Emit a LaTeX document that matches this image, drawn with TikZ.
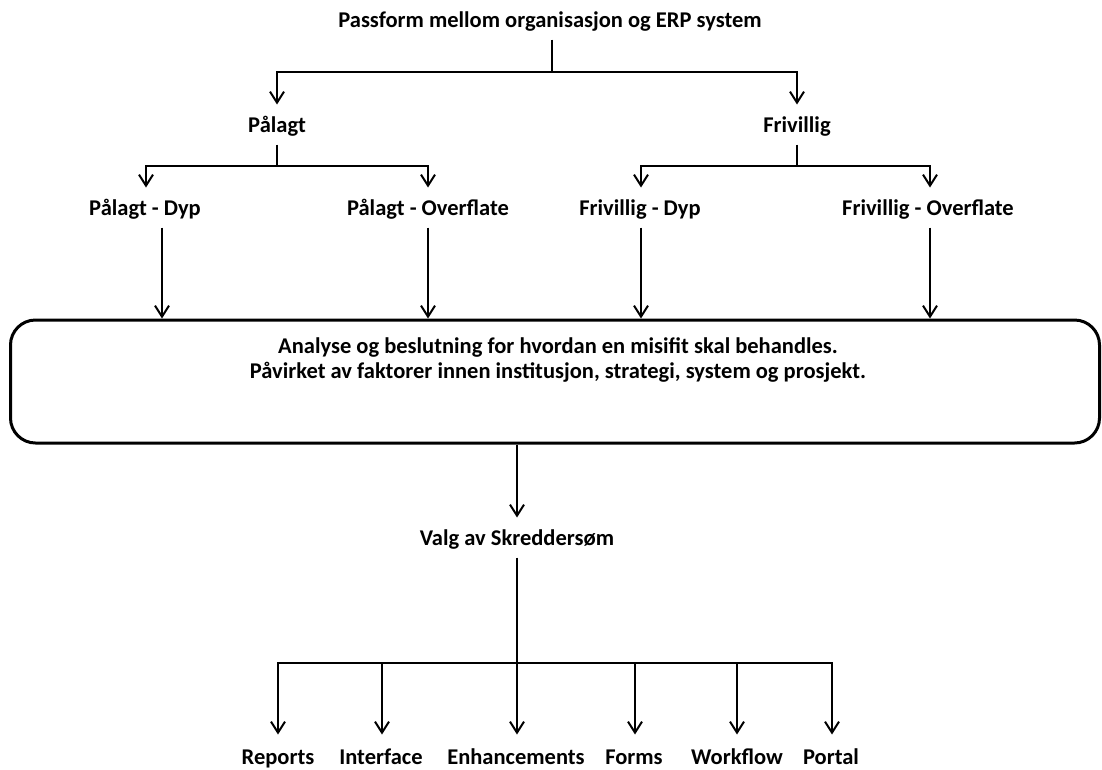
\documentclass[tikz,border=0pt]{standalone}
\usepackage{fontspec}
\setmainfont{Carlito}[BoldFont={Carlito Bold}]
\usetikzlibrary{arrows.meta}
\begin{document}
\begin{tikzpicture}[x=1pt,y=-1pt,
  lbl/.style={font=\fontsize{22.5}{27}\selectfont\bfseries, inner sep=0pt,
    text height=15pt, text depth=0pt, outer ysep=12.5pt, anchor=base},
  wire/.style={line width=2pt},
  arr/.style={wire, -{Straight Barb[length=11pt,width=14pt,line width=2pt]}},
  panel/.style={draw, line width=3pt, rounded corners=25pt, inner sep=0pt}]
\useasboundingbox (0,0) rectangle (1102,769);

% tree labels
\node[lbl] (title) at (550,27) {Passform mellom organisasjon og ERP system};
\node[lbl] (pal) at (277,132) {Pålagt};
\node[lbl] (fri) at (797,132) {Frivillig};
\node[lbl] (pd) at (145,215) {Pålagt - Dyp};
\node[lbl] (po) at (428,215) {Pålagt - Overflate};
\node[lbl] (fd) at (640,215) {Frivillig - Dyp};
\node[lbl] (fo) at (928,215) {Frivillig - Overflate};

% decision panel (the text node's base is the baseline of its last line)
\node[panel, minimum width=1089pt, minimum height=123pt] (box) at (555,381.5) {};
\node[font=\fontsize{22.5}{25}\selectfont\bfseries, align=center, inner sep=0pt, anchor=base]
  (boxtxt) at (558,378) {Analyse og beslutning for hvordan en misifit skal behandles.\\
  Påvirket av faktorer innen institusjon, strategi, system og prosjekt.};

\node[lbl] (valg) at (517,545) {Valg av Skreddersøm};

% customisation options
\node[lbl] (rep) at (278,764) {Reports};
\node[lbl] (int) at (381,764) {Interface};
\node[lbl] (enh) at (516,764) {Enhancements};
\node[lbl] (frm) at (634,764.5) {Forms};
\node[lbl] (wfl) at (737,764) {Workflow};
\node[lbl] (por) at (831,764) {Portal};

% junction points
\coordinate (j1) at (552,72);
\coordinate (j2) at (277,166);
\coordinate (j3) at (797,166);
\coordinate (j4) at (517,663);

% top split
\draw[wire] (title.south -| j1) -- (j1);
\draw[arr] (j1) -| (pal.north);
\draw[arr] (j1) -| (fri.north);

% second split
\draw[wire] (pal.south) -- (j2);
\draw[arr] (j2) -| ([xshift=1pt]pd.north);
\draw[arr] (j2) -| (po.north);
\draw[wire] (fri.south) -- (j3);
\draw[arr] (j3) -| ([xshift=1pt]fd.north);
\draw[arr] (j3) -| ([xshift=2pt]fo.north);

% into the panel
\draw[arr] ([xshift=17pt]pd.south) -- ([xshift=17pt]pd.south |- box.north);
\draw[arr] (po.south) -- (po.south |- box.north);
\draw[arr] ([xshift=1pt]fd.south) -- ([xshift=1pt]fd.south |- box.north);
\draw[arr] ([xshift=2pt]fo.south) -- ([xshift=2pt]fo.south |- box.north);

% out of the panel
\draw[arr] (box.south -| valg) -- (valg.north);
\draw[wire] (valg.south) -- (j4);
\draw[arr] (j4) -| ([yshift=2pt]rep.north);
\draw[arr] (j4) -| ([xshift=1pt,yshift=2pt]int.north);
\draw[arr] (j4) -- ([yshift=2pt]j4 |- enh.north);
\draw[arr] (j4) -| ([xshift=1pt,yshift=2pt]frm.north |- rep.north);
\draw[arr] (j4) -| ([yshift=2pt]wfl.north);
\draw[arr] (j4) -| ([xshift=1pt,yshift=2pt]por.north);
\end{tikzpicture}
\end{document}
